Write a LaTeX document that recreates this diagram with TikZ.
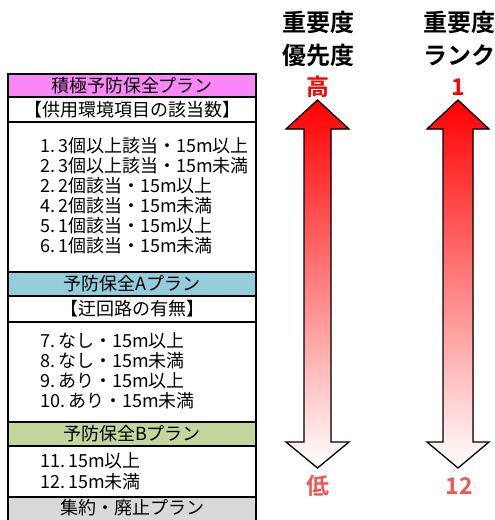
\documentclass[tikz,border=0pt]{standalone}
\usepackage{fontspec}
\newfontfamily\cjk{Noto Sans CJK JP}
\newfontfamily\cjkb{Noto Sans CJK JP Bold}
\definecolor{magcol}{RGB}{250,135,248}
\definecolor{cyancol}{RGB}{146,205,220}
\definecolor{greencol}{RGB}{195,214,155}
\definecolor{graycol}{RGB}{217,217,217}
\definecolor{lowred}{RGB}{242,85,85}
\definecolor{midrose}{RGB}{185,98,104}
\tikzset{
  rowbox/.style={draw=black, line width=1.3pt, minimum width=248pt, inner sep=0pt, font=\cjk\fontsize{18}{20}\selectfont},
  listitem/.style={anchor=west, inner sep=0pt, font=\cjk\fontsize{18}{20}\selectfont},
  headtxt/.style={inner sep=0pt, font=\cjkb\fontsize{24}{28}\selectfont},
  endtxt/.style={inner sep=0pt, font=\cjkb\fontsize{23}{26}\selectfont},
  bigarrow/.style={draw=black, line width=1.3pt, top color=red, middle color=midrose, bottom color=white}
}
\begin{document}
\begin{tikzpicture}[x=1pt,y=-1pt]
\useasboundingbox (0,0) rectangle (495,520);
\begin{scope}
\clip (0,0) rectangle (495,520);
% table rows
\node[rowbox, fill=magcol, minimum height=23pt] (h1) at (132,85.5) {積極予防保全プラン};
\node[rowbox, minimum height=25pt] (s1) at (132,109.5) {【供用環境項目の該当数】};
\node[rowbox, minimum height=150pt] (l1) at (132,197) {};
\node[rowbox, fill=cyancol, minimum height=24pt] (h2) at (132,284) {予防保全Aプラン};
\node[rowbox, minimum height=26pt] (s2) at (132,309) {【迂回路の有無】};
\node[rowbox, minimum height=100pt] (l2) at (132,372) {};
\node[rowbox, fill=greencol, minimum height=24pt] (h3) at (132,434) {予防保全Bプラン};
\node[rowbox, minimum height=51pt] (l3) at (132,471.5) {};
\node[rowbox, fill=graycol, minimum height=30pt] (h4) at (132,512) {};
\node[listitem, anchor=center] (g4) at (132,508) {集約・廃止プラン};
% list 1
\node[listitem] (a1) at (40,146) {1.\,3個以上該当・15m以上};
\node[listitem] (a2) at (40,166) {2.\,3個以上該当・15m未満};
\node[listitem] (a3) at (40,186) {2.\,2個該当・15m以上};
\node[listitem] (a4) at (40,206) {4.\,2個該当・15m未満};
\node[listitem] (a5) at (40,226) {5.\,1個該当・15m以上};
\node[listitem] (a6) at (40,246) {6.\,1個該当・15m未満};
% list 2
\node[listitem] (b1) at (40,341) {7.\,なし・15m以上};
\node[listitem] (b2) at (40,361) {8.\,なし・15m未満};
\node[listitem] (b3) at (40,381) {9.\,あり・15m以上};
\node[listitem] (b4) at (40,401) {10.\,あり・15m未満};
% list 3
\node[listitem] (c1) at (40,461) {11.\,15m以上};
\node[listitem] (c2) at (40,482) {12.\,15m未満};
\end{scope}
% arrows
\filldraw[bigarrow] (317.5,100) -- (349,129) -- (331,129) -- (331,442) -- (349,442) -- (317.5,468) -- (286,442) -- (304,442) -- (304,129) -- (286,129) -- cycle;
\filldraw[bigarrow] (458,100) -- (489,129) -- (473,129) -- (473,442) -- (489,442) -- (458,468) -- (427,442) -- (443,442) -- (443,129) -- (427,129) -- cycle;
% headings
\node[headtxt] (t1) at (318,22) {重要度};
\node[headtxt] (t2) at (318,55) {優先度};
\node[endtxt, text=red] (hi) at (318,87) {高};
\node[endtxt, text=lowred] (lo) at (318,486) {低};
\node[headtxt] (r1) at (459,22) {重要度};
\node[headtxt] (r2) at (459,55) {ランク};
\node[endtxt, text=red] (one) at (458,87) {1};
\node[endtxt, text=lowred] (twelve) at (459,486) {12};
\end{tikzpicture}
\end{document}
